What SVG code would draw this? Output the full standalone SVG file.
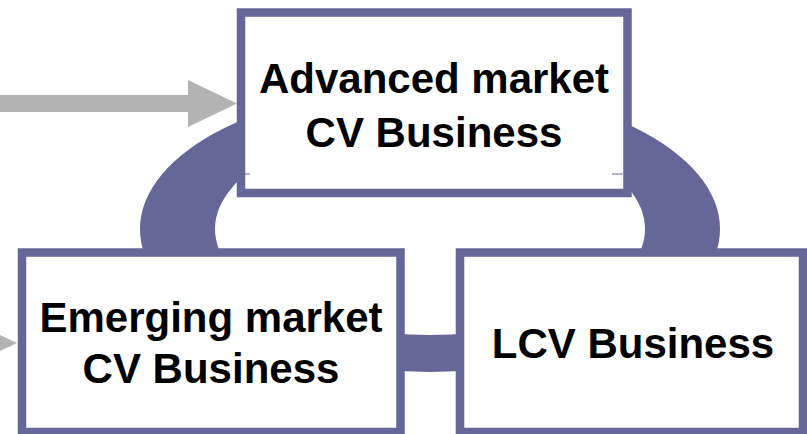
<svg xmlns="http://www.w3.org/2000/svg" width="807" height="434" viewBox="0 0 807 434">
  <style>
    .box { fill: #ffffff; stroke: #666699; stroke-width: 8.5; }
    .label { font-family: "Liberation Sans", Arial, sans-serif; font-weight: bold; font-size: 42px; fill: #000000; text-anchor: middle; }
    .ring { fill: #666699; fill-rule: evenodd; }
    .feed { fill: #b3b3b3; }
    .tick { stroke: #666699; stroke-width: 1; }
  </style>

  <!-- connectors: the elliptical loop linking the three businesses and the incoming arrows -->
  <g id="connectors">
    <path class="ring" d="M140,229 A290,143 0 1,0 720,229 A290,143 0 1,0 140,229 Z M215,229 A215,106 0 1,0 645,229 A215,106 0 1,0 215,229 Z"/>
    <path class="feed" d="M0,95 L188,95 L188,80 L237,103.5 L188,127 L188,112 L0,112 Z"/>
    <path class="feed" d="M-32,320 L17,343 L-32,366 Z"/>
  </g>

  <g id="advanced-market">
    <rect class="box" x="241" y="12.5" width="386.5" height="180.5"/>
    <line class="tick" x1="245" y1="174" x2="250" y2="174"/>
    <line class="tick" x1="612" y1="174" x2="623" y2="174"/>
    <text class="label" x="434" y="93">Advanced market</text>
    <text class="label" x="434" y="147">CV Business</text>
  </g>

  <g id="emerging-market">
    <rect class="box" x="22" y="252.5" width="378.5" height="179.5"/>
    <text class="label" x="211" y="332">Emerging market</text>
    <text class="label" x="211" y="383">CV Business</text>
  </g>

  <g id="lcv">
    <rect class="box" x="460" y="252.5" width="343" height="179.5"/>
    <text class="label" x="633" y="358">LCV Business</text>
  </g>
</svg>
